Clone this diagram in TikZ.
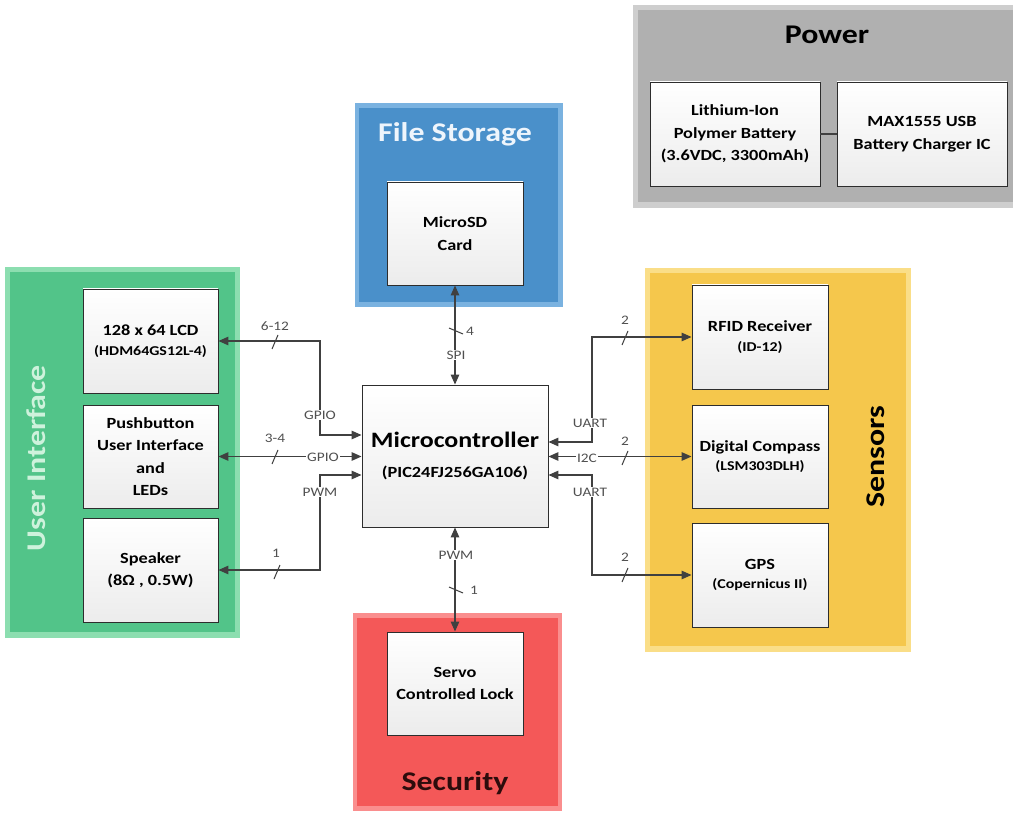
\documentclass[tikz,border=0pt]{standalone}
\usepackage{fontspec}
\setmainfont{Carlito}[FakeStretch=1.18]
\usetikzlibrary{arrows.meta,calc}

\definecolor{pwr}{RGB}{176,176,176}
\definecolor{pwrhalo}{RGB}{206,206,206}
\definecolor{fsb}{RGB}{74,144,202}
\definecolor{fsbhalo}{RGB}{122,178,224}
\definecolor{uig}{RGB}{82,196,137}
\definecolor{uighalo}{RGB}{140,222,176}
\definecolor{sny}{RGB}{245,199,76}
\definecolor{snyhalo}{RGB}{250,222,136}
\definecolor{sec}{RGB}{244,88,88}
\definecolor{sechalo}{RGB}{250,142,142}
\definecolor{wire}{RGB}{64,64,64}
\definecolor{lbl}{RGB}{80,80,80}
\definecolor{boxline}{RGB}{45,45,45}
\definecolor{boxbot}{RGB}{236,236,236}
\definecolor{uitext}{RGB}{206,242,220}
\definecolor{fstext}{RGB}{238,245,252}
\definecolor{sectext}{RGB}{45,12,12}

\begin{document}
\begin{tikzpicture}[x=1pt,y=-1pt,
  box/.style={draw=boxline, line width=0.9pt, top color=white, bottom color=boxbot,
    align=center, inner sep=2pt, minimum width=136pt, minimum height=104pt,
    font=\fontsize{15.5}{22.5}\selectfont\bfseries},
  title/.style={font=\fontsize{27}{30}\selectfont\bfseries, inner sep=0pt},
  conn/.style={draw=wire, line width=1.3pt, {Triangle[length=10pt,width=8.5pt]}-{Triangle[length=10pt,width=8.5pt]}},
  plain/.style={draw=wire, line width=1.3pt},
  tag/.style={text=lbl, font=\fontsize{13}{15}\selectfont, inner sep=1pt},
  ontag/.style={tag, fill=white},
  hbus/.pic={\draw[wire, line width=1pt] (-3,7) -- (3,-7);},
  vbus/.pic={\draw[wire, line width=1pt] (-7,-3) -- (7,3);}
]
\useasboundingbox (0,0) rectangle (1013,813);
\fill[white] (0,0) rectangle (1013,813);

% group panels: light halo with the coloured field inside
\fill[pwrhalo] (633,5) rectangle (1013,208);
\fill[pwr] (638,10) rectangle (1013,202);
\fill[fsbhalo] (355,103) rectangle (563,307);
\fill[fsb] (359,108) rectangle (558,302);
\fill[uighalo] (5,267) rectangle (240,638);
\fill[uig] (10,272) rectangle (235,632);
\fill[snyhalo] (645,268) rectangle (911,652);
\fill[sny] (650,273) rectangle (906,646);
\fill[sechalo] (353,613) rectangle (562,811);
\fill[sec] (357,618) rectangle (558,806);

% group titles
\node[title] (tpwr) at (827,35) {Power};
\node[title, text=fstext] (tfs) at (455,134) {File Storage};
\node[title, text=uitext, rotate=90] (tui) at (36,458) {User Interface};
\node[title, rotate=90] (tsn) at (876,457) {Sensors};
\node[title, text=sectext] (tsec) at (455,783) {Security};

% power
\node[box, minimum width=170pt] (bat) at (735,134) {Lithium-Ion\\Polymer Battery\\(3.6VDC, 3300mAh)};
\node[box, minimum width=170pt] (chg) at (922,134) {MAX1555 USB\\Battery Charger IC};
\draw[plain] (bat.east) -- (chg.west);

% file storage
\node[box, minimum height=103pt] (sd) at (455,233.5) {MicroSD\\Card};

% user interface
\node[box, minimum width=135pt] (lcd) at (150.5,341) {128 x 64 LCD\\[-3pt]{\fontsize{13.5}{15}\selectfont (HDM64GS12L-4)}};
\node[box, minimum width=135pt, minimum height=103pt] (push) at (150.5,456.5) {Pushbutton\\User Interface\\and\\LEDs};
\node[box, minimum width=135pt] (spk) at (150.5,570) {Speaker\\(8Ω , 0.5W)};

% microcontroller
\node[box, minimum width=186pt, minimum height=142pt] (mcu) at (455,456)
  {{\fontsize{22}{26}\selectfont Microcontroller}\\[7pt]{\fontsize{15.5}{18}\selectfont (PIC24FJ256GA106)}};

% sensors
\node[box] (rfid) at (760,337) {RFID Receiver\\[-3pt]{\fontsize{13.5}{15}\selectfont (ID-12)}};
\node[box, minimum height=103pt] (cmp) at (760,456.5) {Digital Compass\\[-3pt]{\fontsize{13.5}{15}\selectfont (LSM303DLH)}};
\node[box] (gps) at (760,575) {GPS\\[-3pt]{\fontsize{13.5}{15}\selectfont (Copernicus II)}};

% security
\node[box, minimum height=103pt] (servo) at (455,683.5) {Servo\\Controlled Lock};

% bends of the routed buses
\coordinate (jl1) at (320,435);
\coordinate (jl3) at (320,475);
\coordinate (jr1) at (592,442);
\coordinate (jr3) at (592,475);

% buses
\draw[conn] (lcd.east) -| (jl1) -- (jl1 -| mcu.west);
\draw[conn] (push.east) -- (push.east -| mcu.west);
\draw[conn] (spk.east) -| (jl3) -- (jl3 -| mcu.west);
\draw[conn] (jr1 -| mcu.east) -- (jr1) |- (rfid.west);
\draw[conn] (cmp.west -| mcu.east) -- (cmp.west);
\draw[conn] (jr3 -| mcu.east) -- (jr3) |- (gps.west);
\draw[conn] (mcu.north) -- (sd.south);
\draw[conn] (mcu.south) -- (servo.north);

% interface names
\node[ontag] (t1) at (320,415) {GPIO};
\node[ontag] (t2) at (323,457) {GPIO};
\node[ontag] (t3) at (320,492) {PWM};
\node[ontag] (t4) at (590,423) {UART};
\node[ontag] (t5) at (587,458) {I2C};
\node[ontag] (t6) at (590,492) {UART};
\node[ontag] (t7) at (456,355) {SPI};
\node[ontag] (t8) at (456,555) {PWM};

% bus widths
\pic at (275,342) {hbus};
\pic at (275,457) {hbus};
\pic at (277,572) {hbus};
\pic at (625,338) {hbus};
\pic at (625,458) {hbus};
\pic at (625,575) {hbus};
\pic at (456,331) {vbus};
\pic at (456,590) {vbus};
\node[tag] (w1) at (275,326) {6-12};
\node[tag] (w2) at (275,438) {3-4};
\node[tag] (w3) at (276,553) {1};
\node[tag] (w4) at (625,320) {2};
\node[tag] (w5) at (625,441) {2};
\node[tag] (w6) at (625,557) {2};
\node[tag] (w7) at (470,331) {4};
\node[tag] (w8) at (474,590) {1};
\end{tikzpicture}
\end{document}
